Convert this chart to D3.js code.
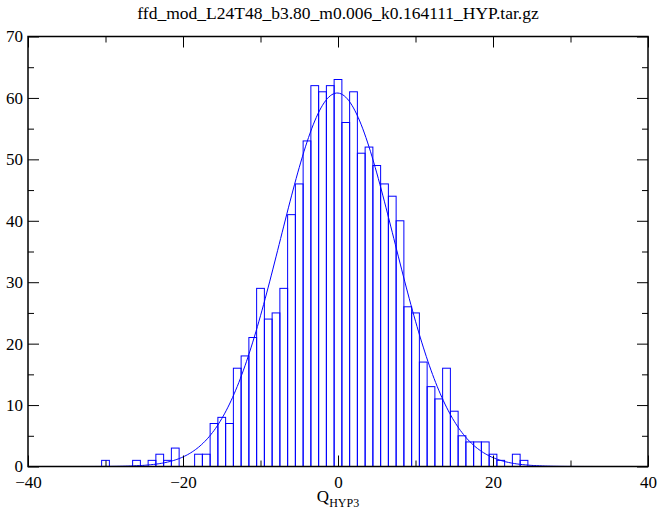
<!DOCTYPE html>
<html>
<head>
<meta charset="utf-8">
<script src="https://cdn.jsdelivr.net/npm/d3@7"></script>
<style>
  body { margin: 0; background: #fff; }
  svg { display: block; }
  svg text { font-family: "Liberation Serif", "Times New Roman", serif; }
</style>
</head>
<body>
<div id="chart"></div>
<script>
// histogram bins (centre of each unit-wide bin) and their counts
var binCentres = [-30, -29, -28, -27, -26, -25, -24, -23, -22, -21, -20, -19, -18, -17, -16, -15, -14, -13, -12, -11,
  -10, -9, -8, -7, -6, -5, -4, -3, -2, -1, 0, 1, 2, 3, 4, 5, 6, 7, 8, 9,
  10, 11, 12, 13, 14, 15, 16, 17, 18, 19, 20, 21, 22, 23, 24];
var binCounts = [1, 0, 0, 0, 1, 0, 1, 2, 1, 3, 0, 0, 2, 2, 7, 8, 7, 16, 18, 21,
  29, 24, 25, 29, 41, 46, 53, 62, 61, 62, 63, 56, 61, 51, 52, 49, 46, 44, 40, 26,
  25, 17, 13, 11, 16, 9, 5, 4, 4, 4, 2, 1, 0, 2, 1];

// gaussian fit drawn over the histogram
var fitAmp = 60.8, fitMean = -0.1, fitSigma = 7.35;

var xMajor = [-40, -20, 0, 20, 40];
var xMinor = [-30, -10, 10, 30];
var yMajor = [0, 10, 20, 30, 40, 50, 60, 70];
var yMinor = [5, 15, 25, 35, 45, 55, 65];

var title = "ffd_mod_L24T48_b3.80_m0.006_k0.164111_HYP.tar.gz";

var W = 658, H = 512;
var margin = {top: 36.5, right: 10, bottom: 45.5, left: 28};
var width = W - margin.left - margin.right,
    height = H - margin.top - margin.bottom;

var svg = d3.select("#chart").append("svg")
  .attr("width", W)
  .attr("height", H);

var g = svg.append("g")
  .attr("transform", "translate(" + margin.left + "," + margin.top + ")");

var xScale = d3.scaleLinear().domain([-40, 40]).range([0, width]);
var yScale = d3.scaleLinear().domain([0, 70]).range([height, 0]);

// bars, outline only
var bins = binCentres.map(function(c, i) { return {c: c, n: binCounts[i]}; })
  .filter(function(d) { return d.n > 0; });

g.selectAll(".bar")
  .data(bins)
  .enter()
  .append("rect")
  .attr("class", "bar")
  .attr("x", function(d) { return xScale(d.c - 0.5); })
  .attr("y", function(d) { return yScale(d.n); })
  .attr("width", function(d) { return xScale(d.c + 0.5) - xScale(d.c - 0.5); })
  .attr("height", function(d) { return yScale(0) - yScale(d.n); })
  .attr("fill", "none")
  .attr("stroke", "#0000ff")
  .attr("stroke-width", 1);

// fit curve
var fitX = d3.range(-40, 40.01, 0.2);
var line = d3.line()
  .x(function(d) { return xScale(d); })
  .y(function(d) {
    var z = (d - fitMean) / fitSigma;
    return yScale(fitAmp * Math.exp(-0.5 * z * z));
  });

g.append("path")
  .datum(fitX)
  .attr("d", line)
  .attr("fill", "none")
  .attr("stroke", "#0000ff")
  .attr("stroke-width", 1);

// axes, ticks pointing inwards
function styleAxis(sel) {
  sel.attr("font-family", null).attr("font-size", null);
  sel.select(".domain").remove();
  sel.selectAll("line").attr("stroke", "#000").attr("stroke-width", 1);
  sel.selectAll("text")
    .attr("fill", "#000")
    .style("font-size", "17px");
}

g.append("g")
  .attr("transform", "translate(0," + height + ")")
  .call(d3.axisBottom(xScale).tickValues(xMajor).tickSize(-11).tickPadding(9).tickFormat(d3.format("d")))
  .call(styleAxis);
g.append("g")
  .attr("transform", "translate(0," + height + ")")
  .call(d3.axisBottom(xScale).tickValues(xMinor).tickSize(-6).tickFormat(""))
  .call(styleAxis);
g.append("g")
  .call(d3.axisTop(xScale).tickValues(xMajor).tickSize(-11).tickFormat(""))
  .call(styleAxis);
g.append("g")
  .call(d3.axisTop(xScale).tickValues(xMinor).tickSize(-6).tickFormat(""))
  .call(styleAxis);

g.append("g")
  .call(d3.axisLeft(yScale).tickValues(yMajor).tickSize(-11).tickPadding(5).tickFormat(d3.format("d")))
  .call(styleAxis);
g.append("g")
  .call(d3.axisLeft(yScale).tickValues(yMinor).tickSize(-6).tickFormat(""))
  .call(styleAxis);
g.append("g")
  .attr("transform", "translate(" + width + ",0)")
  .call(d3.axisRight(yScale).tickValues(yMajor).tickSize(-11).tickFormat(""))
  .call(styleAxis);
g.append("g")
  .attr("transform", "translate(" + width + ",0)")
  .call(d3.axisRight(yScale).tickValues(yMinor).tickSize(-6).tickFormat(""))
  .call(styleAxis);

// frame
g.append("rect")
  .attr("x", 0)
  .attr("y", 0)
  .attr("width", width)
  .attr("height", height)
  .attr("fill", "none")
  .attr("stroke", "#000")
  .attr("stroke-width", 1.5);

// title
svg.append("text")
  .attr("x", margin.left + width / 2)
  .attr("y", 19)
  .attr("text-anchor", "middle")
  .style("font-size", "17.5px")
  .text(title);

// x axis label with subscript
var xl = svg.append("text")
  .attr("x", margin.left + width / 2)
  .attr("y", 502)
  .attr("text-anchor", "middle")
  .style("font-size", "17px");
xl.append("tspan").text("Q");
xl.append("tspan").attr("dy", 5).style("font-size", "12px").text("HYP3");
</script>
</body>
</html>
